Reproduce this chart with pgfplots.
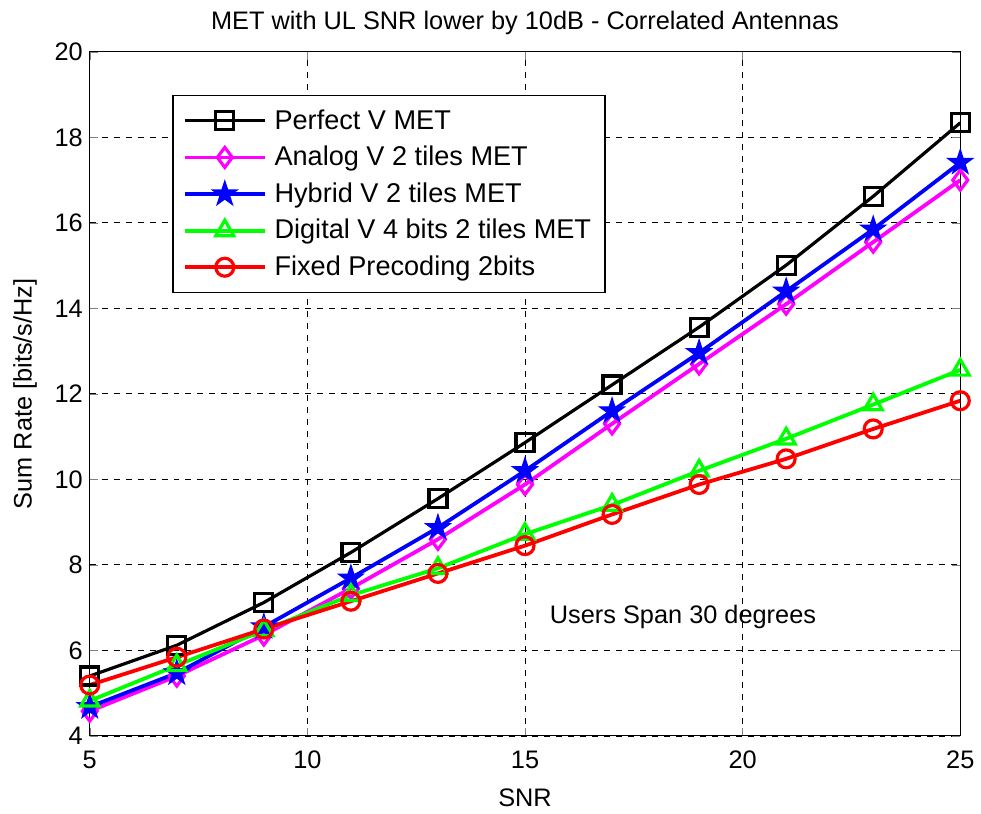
\documentclass[border=0pt]{standalone}
\usepackage{fontspec}
\setmainfont{Liberation Sans}
\usepackage{pgfplots}
\pgfplotsset{compat=1.18}
\definecolor{mag}{rgb}{1,0,1}
\definecolor{grn}{rgb}{0,1,0}
\pgfdeclareplotmark{fstar}{%
  \pgfpathmoveto{\pgfqpointpolar{90}{\pgfplotmarksize}}%
  \pgfpathlineto{\pgfqpointpolar{126}{0.382\pgfplotmarksize}}%
  \pgfpathlineto{\pgfqpointpolar{162}{\pgfplotmarksize}}%
  \pgfpathlineto{\pgfqpointpolar{198}{0.382\pgfplotmarksize}}%
  \pgfpathlineto{\pgfqpointpolar{234}{\pgfplotmarksize}}%
  \pgfpathlineto{\pgfqpointpolar{270}{0.382\pgfplotmarksize}}%
  \pgfpathlineto{\pgfqpointpolar{306}{\pgfplotmarksize}}%
  \pgfpathlineto{\pgfqpointpolar{342}{0.382\pgfplotmarksize}}%
  \pgfpathlineto{\pgfqpointpolar{18}{\pgfplotmarksize}}%
  \pgfpathlineto{\pgfqpointpolar{54}{0.382\pgfplotmarksize}}%
  \pgfpathclose
  \pgfusepathqfillstroke
}
\begin{document}
\begin{tikzpicture}
\begin{axis}[
  scale only axis, width=436.5pt, height=343pt,
  xmin=5, xmax=25, ymin=4, ymax=20,
  xtick={5,10,15,20,25}, ytick={4,6,...,20},
  tick align=inside, tick pos=both, major tick length=4pt,
  grid=major, grid style={dashed, black, line width=0.4pt, dash pattern=on 3pt off 3pt},
  axis line style={line width=0.6pt},
  /pgf/number format/assume math mode=true,
  tick label style={font=\fontsize{12.7}{14}\selectfont},
  xticklabel style={yshift=-4pt},
  label style={font=\fontsize{12.7}{14}\selectfont},
  title style={font=\fontsize{12.7}{14}\selectfont, yshift=-1pt},
  title={MET with UL SNR lower by 10dB - Correlated Antennas},
  xlabel={SNR}, ylabel={Sum Rate [bits/s/Hz]},
  xlabel style={yshift=-3pt}, ylabel style={yshift=2pt},
  legend style={at={(0.095,0.937)}, anchor=north west, draw=black, line width=0.6pt,
    font=\fontsize{13.6}{15}\selectfont, row sep=3.0pt, inner xsep=5pt, inner ysep=5pt, cells={anchor=west}},
  legend image code/.code={\draw[mark repeat=2,mark phase=2] plot coordinates {(0pt,0pt)(20pt,0pt)(40pt,0pt)};\path (42pt,0pt);},
  legend cell align=left,
  every axis plot/.append style={line width=1.9pt},
]
\addplot[black, line width=1.6pt, mark=square, mark size=4.5pt, mark options={solid, line width=1.6pt}] coordinates {
(5,5.40)(7,6.12)(9,7.12)(11,8.29)(13,9.55)(15,10.86)(17,12.21)(19,13.56)(21,15.01)(23,16.62)(25,18.34)};
\addlegendentry{Perfect V MET}
\addplot[mag, mark=diamond, mark size=5pt, mark options={solid, line width=1.6pt}] coordinates {
(5,4.58)(7,5.40)(9,6.36)(11,7.45)(13,8.60)(15,9.88)(17,11.30)(19,12.70)(21,14.10)(23,15.55)(25,17.00)};
\addlegendentry{Analog V 2 tiles MET}
\addplot[blue, mark=fstar, mark size=6.5pt, mark options={solid, line width=0.6pt, fill=blue}] coordinates {
(5,4.68)(7,5.47)(9,6.55)(11,7.69)(13,8.87)(15,10.20)(17,11.60)(19,12.96)(21,14.40)(23,15.85)(25,17.41)};
\addlegendentry{Hybrid V 2 tiles MET}
\addplot[grn, mark=triangle, mark size=5.2pt, mark options={solid, line width=1.6pt}] coordinates {
(5,4.82)(7,5.65)(9,6.47)(11,7.29)(13,7.92)(15,8.72)(17,9.40)(19,10.20)(21,10.95)(23,11.75)(25,12.56)};
\addlegendentry{Digital V 4 bits 2 tiles MET}
\addplot[red, mark=o, mark size=4.5pt, mark options={solid, line width=1.6pt}] coordinates {
(5,5.19)(7,5.84)(9,6.50)(11,7.15)(13,7.80)(15,8.45)(17,9.18)(19,9.88)(21,10.48)(23,11.18)(25,11.84)};
\addlegendentry{Fixed Precoding 2bits}
\node[font=\fontsize{12.7}{14}\selectfont] at (axis cs:18.63,6.78) {Users Span 30 degrees};
\end{axis}
\useasboundingbox ([xshift=-45pt,yshift=-34.5pt]current axis.south west) rectangle ([xshift=9pt,yshift=26pt]current axis.north east);
\end{tikzpicture}
\end{document}
